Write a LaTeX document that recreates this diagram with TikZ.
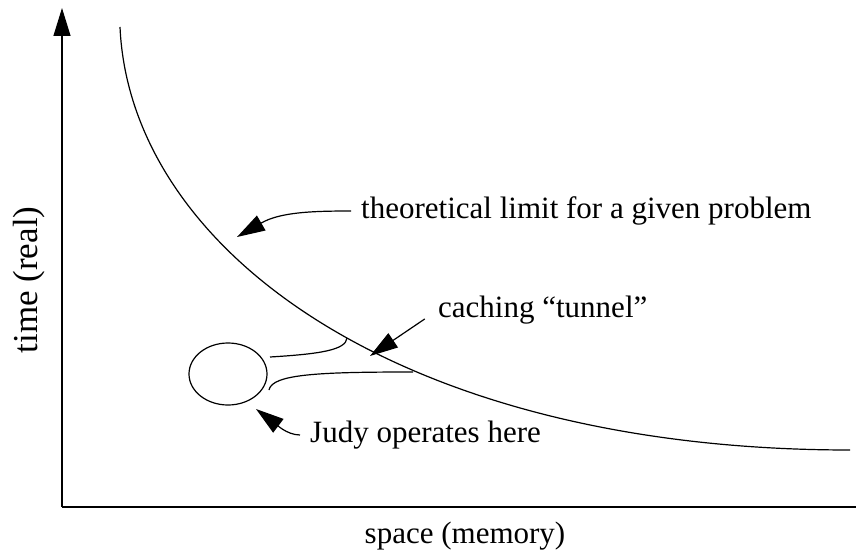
\documentclass[tikz,border=0pt]{standalone}
\usepackage{fontspec}
\setmainfont{Liberation Serif}
\usetikzlibrary{arrows.meta,shapes.geometric}

\tikzset{
  lbl/.style={font=\fontsize{31}{36}\selectfont, inner sep=0pt},
  pointer/.style={line width=1.2pt, -{Triangle[length=28pt,width=17pt]}},
  thin line/.style={line width=1.2pt}
}

\begin{document}
\begin{tikzpicture}[x=1pt, y=-1pt]
  \useasboundingbox (0,0) rectangle (857,556);

  % Define nodes
  \coordinate (origin) at (62,507);
  \coordinate (ytop)   at (62,8);
  \coordinate (xend)   at (856,507);
  \node[lbl, rotate=90, font=\fontsize{35}{40}\selectfont]
                              (ylabel)     at (29,280)  {time (real)};
  \node[lbl]                  (xlabel)     at (465,536) {space (memory)};
  \node[lbl, anchor=west]     (thlabel)    at (361,211) {theoretical limit for a given problem};
  \node[lbl, anchor=west]     (cachelabel) at (438,310) {caching ``tunnel''};
  \node[lbl, anchor=west]     (judylabel)  at (310,435) {Judy operates here};
  \node[draw, thin line, ellipse, minimum width=78pt, minimum height=62pt, inner sep=0pt]
                              (judy)       at (228,374) {};
  \coordinate (thtip)    at (237,237);
  \coordinate (cachetip) at (370,356);
  \coordinate (judytip)  at (256,409);

  % Axes and limit curve
  \draw[pointer] (origin) -- (ytop);
  \draw[thin line] (origin) -- (xend);
  \draw[thin line] (120,27) .. controls (130,250) and (400,450) .. (850,450);

  % Tunnel
  \draw[thin line] (270,357) .. controls (320,354) and (346,350) .. (347,338);
  \draw[thin line] (269,390) .. controls (272,374) and (320,372) .. (413,372);

  % Connect the nodes
  \draw[pointer, shorten <=10pt] (thlabel.west) to[out=180, in=30] (thtip);
  \draw[pointer, shorten <=16pt] (cachelabel.west) -- (cachetip);
  \draw[pointer, shorten <=10pt] (judylabel.west) to[out=180, in=-37] (judytip);
\end{tikzpicture}
\end{document}
